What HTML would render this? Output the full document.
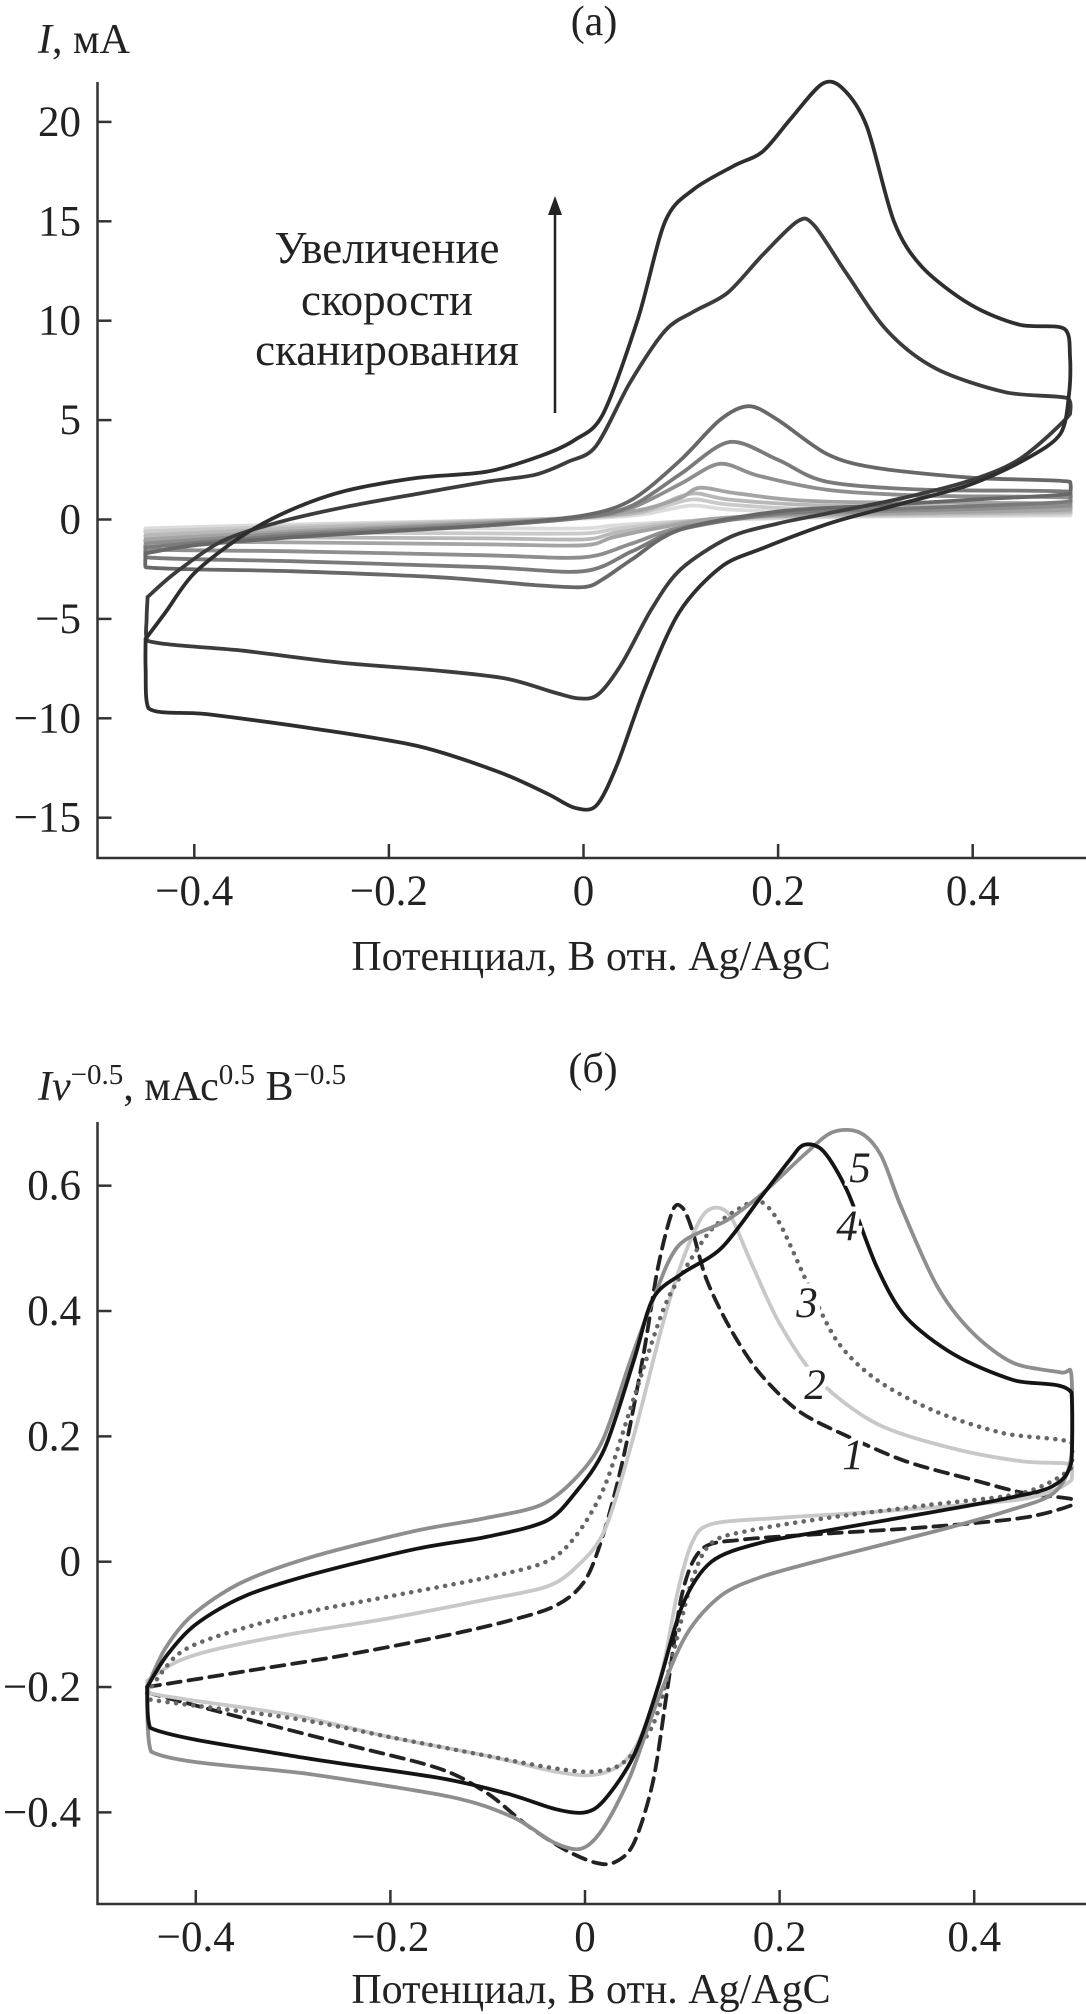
<!DOCTYPE html>
<html><head><meta charset="utf-8"><style>
html,body{margin:0;padding:0;background:#fff;}
svg{display:block;}
text{font-family:"Liberation Serif",serif;fill:#222;}
</style></head><body>
<svg id="fig" width="1086" height="2014" viewBox="0 0 1086 2014" xmlns="http://www.w3.org/2000/svg">
<g id="chartA"></g>
<g id="chartB"></g>
</svg>
<script>
// ---------- data: chart (a) ----------
const ticksXA = [-0.4, -0.2, 0, 0.2, 0.4];
const ticksXLabels = ["\u22120.4", "\u22120.2", "0", "0.2", "0.4"];
const ticksYA = [-15, -10, -5, 0, 5, 10, 15, 20];
const ticksYALabels = ["\u221215", "\u221210", "\u22125", "0", "5", "10", "15", "20"];
const curveA6 = [[-0.45,-6.0],[-0.43,-4.7],[-0.40,-2.7],[-0.35,-0.8],[-0.30,0.5],[-0.244,1.45],[-0.17,2.1],[-0.10,2.4],[-0.044,3.2],[-0.009,4.0],[0.02,5.3],[0.056,10.1],[0.084,15],[0.113,16.6],[0.155,17.8],[0.184,18.5],[0.212,20.1],[0.245,21.9],[0.266,21.7],[0.291,19.8],[0.319,15],[0.348,12.7],[0.398,10.8],[0.448,9.8],[0.494,9.6],[0.5,8.2],[0.499,6.3],[0.49,4.3],[0.455,3.05],[0.398,1.77],[0.327,0.8],[0.255,-0.16],[0.184,-1.45],[0.141,-2.4],[0.098,-4.7],[0.063,-8.5],[0.034,-12.4],[0.013,-14.4],[-0.009,-14.5],[-0.037,-13.8],[-0.087,-12.7],[-0.17,-11.4],[-0.28,-10.5],[-0.386,-9.8],[-0.447,-9.5],[-0.45,-7.5],[-0.45,-6.0]];
const curveA5 = [[-0.448,-3.9],[-0.42,-2.7],[-0.372,-1.1],[-0.315,-0.16],[-0.244,0.64],[-0.17,1.3],[-0.10,1.9],[-0.05,2.25],[-0.016,2.9],[0.013,3.7],[0.048,6.9],[0.084,9.5],[0.113,10.45],[0.148,11.4],[0.184,13.3],[0.22,15],[0.237,14.8],[0.27,12.4],[0.312,9.5],[0.362,7.6],[0.434,6.4],[0.498,6.1],[0.5,5.3],[0.45,3.1],[0.4,2.0],[0.33,1.1],[0.25,0.3],[0.2,-0.2],[0.15,-0.9],[0.1,-2.5],[0.07,-4.5],[0.04,-7.2],[0.015,-8.8],[-0.005,-9.0],[-0.03,-8.7],[-0.08,-8.0],[-0.15,-7.6],[-0.25,-7.2],[-0.35,-6.6],[-0.448,-6.1],[-0.449,-5.0],[-0.448,-3.9]];
const curveA4 = [[-0.45,-1.7],[-0.4,-1.3],[-0.3,-0.9],[-0.2,-0.6],[-0.1,-0.3],[0,0.2],[0.05,1.0],[0.1,3.0],[0.14,5.0],[0.17,5.7],[0.2,5.0],[0.25,3.3],[0.3,2.6],[0.4,2.1],[0.5,1.9],[0.5,1.3],[0.4,1.0],[0.3,0.7],[0.2,0.4],[0.1,-0.5],[0.05,-2.0],[0.02,-3.0],[0,-3.4],[-0.05,-3.3],[-0.15,-2.9],[-0.3,-2.6],[-0.45,-2.4],[-0.45,-1.7]];
const curveA3 = [[-0.45,-1.4],[-0.3,-0.8],[-0.1,-0.3],[0,0.1],[0.05,0.7],[0.1,2.3],[0.15,3.9],[0.2,3.0],[0.25,1.9],[0.35,1.5],[0.5,1.4],[0.5,0.9],[0.3,0.5],[0.2,0.3],[0.1,-0.5],[0.05,-1.6],[0,-2.6],[-0.1,-2.4],[-0.3,-2.1],[-0.45,-1.9],[-0.45,-1.4]];
const curveA2 = [[-0.45,-1.2],[-0.3,-0.7],[-0.1,-0.2],[0,0.1],[0.05,0.6],[0.1,1.8],[0.14,2.8],[0.18,2.2],[0.25,1.5],[0.35,1.2],[0.5,1.1],[0.5,0.7],[0.3,0.4],[0.2,0.25],[0.1,-0.4],[0.05,-1.2],[0,-1.9],[-0.1,-1.8],[-0.3,-1.6],[-0.45,-1.5],[-0.45,-1.2]];
const curveA1 = [[-0.45,-1.0],[-0.3,-0.6],[-0.1,-0.15],[0,0.1],[0.06,0.5],[0.1,1.1],[0.12,1.6],[0.16,1.3],[0.25,0.9],[0.5,0.8],[0.5,0.5],[0.3,0.3],[0.15,0.1],[0.08,-0.4],[0.03,-0.9],[0,-1.3],[-0.1,-1.25],[-0.3,-1.15],[-0.45,-1.1],[-0.45,-1.0]];
const curveA0 = [[-0.45,-0.8],[-0.3,-0.45],[-0.1,-0.1],[0,0.1],[0.06,0.4],[0.11,1.3],[0.15,1.0],[0.25,0.7],[0.5,0.6],[0.5,0.4],[0.3,0.25],[0.15,0.1],[0.08,-0.3],[0.03,-0.7],[0,-1.0],[-0.1,-0.95],[-0.3,-0.9],[-0.45,-0.85],[-0.45,-0.8]];
const curveAm = [[-0.45,-0.6],[-0.3,-0.35],[-0.1,-0.05],[0,0.1],[0.06,0.35],[0.11,1.0],[0.15,0.75],[0.25,0.5],[0.5,0.45],[0.5,0.3],[0.3,0.2],[0.15,0.05],[0.08,-0.2],[0.03,-0.5],[0,-0.7],[-0.1,-0.7],[-0.3,-0.65],[-0.45,-0.65],[-0.45,-0.6]];
const curveAl = [[-0.45,-0.45],[-0.3,-0.25],[-0.1,-0.05],[0,0.05],[0.06,0.25],[0.11,0.7],[0.15,0.5],[0.25,0.35],[0.5,0.3],[0.5,0.2],[0.3,0.15],[0.15,0.0],[0.08,-0.15],[0.03,-0.3],[0,-0.45],[-0.1,-0.45],[-0.3,-0.45],[-0.45,-0.5],[-0.45,-0.45]];

// ---------- data: chart (b) ----------
const ticksYB = [-0.4, -0.2, 0, 0.2, 0.4, 0.6];
const ticksYBLabels = ["\u22120.4", "\u22120.2", "0", "0.2", "0.4", "0.6"];
const curveB5 = [[-0.45,-0.2],[-0.432,-0.14],[-0.404,-0.086],[-0.354,-0.034],[-0.282,0.007],[-0.175,0.049],[-0.104,0.069],[-0.046,0.09],[-0.011,0.131],[0.018,0.193],[0.046,0.318],[0.068,0.41],[0.096,0.504],[0.146,0.545],[0.182,0.587],[0.225,0.649],[0.254,0.685],[0.282,0.685],[0.304,0.649],[0.325,0.566],[0.361,0.442],[0.396,0.369],[0.439,0.318],[0.489,0.302],[0.5,0.297],[0.5,0.17],[0.482,0.11],[0.432,0.08],[0.361,0.049],[0.254,0.007],[0.182,-0.024],[0.139,-0.055],[0.104,-0.117],[0.075,-0.22],[0.046,-0.344],[0.018,-0.427],[-0.004,-0.458],[-0.032,-0.448],[-0.075,-0.407],[-0.139,-0.375],[-0.282,-0.339],[-0.446,-0.303],[-0.45,-0.2]];
const curveB4 = [[-0.45,-0.2],[-0.43,-0.15],[-0.4,-0.1],[-0.35,-0.055],[-0.28,-0.02],[-0.175,0.02],[-0.1,0.04],[-0.04,0.065],[-0.01,0.11],[0.02,0.18],[0.05,0.32],[0.07,0.42],[0.1,0.46],[0.14,0.5],[0.18,0.58],[0.21,0.64],[0.225,0.665],[0.245,0.655],[0.27,0.59],[0.3,0.47],[0.33,0.39],[0.38,0.33],[0.44,0.29],[0.5,0.27],[0.5,0.16],[0.48,0.12],[0.43,0.1],[0.36,0.08],[0.25,0.05],[0.18,0.03],[0.13,0.0],[0.1,-0.07],[0.075,-0.2],[0.05,-0.31],[0.02,-0.38],[0,-0.4],[-0.03,-0.395],[-0.08,-0.37],[-0.15,-0.345],[-0.3,-0.31],[-0.447,-0.265],[-0.45,-0.2]];
const curveB3 = [[-0.45,-0.21],[-0.42,-0.15],[-0.38,-0.12],[-0.3,-0.085],[-0.2,-0.055],[-0.1,-0.025],[-0.04,0.0],[-0.01,0.04],[0.02,0.12],[0.05,0.26],[0.08,0.4],[0.1,0.46],[0.13,0.53],[0.16,0.565],[0.18,0.575],[0.2,0.54],[0.23,0.44],[0.26,0.35],[0.3,0.29],[0.36,0.24],[0.43,0.205],[0.5,0.19],[0.5,0.15],[0.45,0.11],[0.35,0.09],[0.25,0.07],[0.17,0.05],[0.13,0.03],[0.11,-0.03],[0.09,-0.15],[0.07,-0.26],[0.04,-0.32],[0.01,-0.335],[-0.03,-0.33],[-0.1,-0.31],[-0.2,-0.28],[-0.3,-0.25],[-0.447,-0.22],[-0.45,-0.21]];
const curveB2 = [[-0.45,-0.19],[-0.42,-0.16],[-0.38,-0.14],[-0.3,-0.115],[-0.2,-0.09],[-0.1,-0.06],[-0.04,-0.04],[-0.01,-0.01],[0.02,0.05],[0.05,0.2],[0.08,0.38],[0.1,0.48],[0.12,0.55],[0.135,0.565],[0.15,0.55],[0.17,0.48],[0.2,0.38],[0.24,0.29],[0.3,0.22],[0.38,0.18],[0.45,0.16],[0.5,0.155],[0.5,0.13],[0.45,0.1],[0.3,0.08],[0.2,0.07],[0.13,0.06],[0.11,0.03],[0.095,-0.05],[0.08,-0.17],[0.06,-0.27],[0.04,-0.32],[0.01,-0.34],[-0.03,-0.335],[-0.1,-0.31],[-0.2,-0.28],[-0.3,-0.245],[-0.447,-0.21],[-0.45,-0.19]];
const curveB1 = [[-0.45,-0.2],[-0.35,-0.175],[-0.25,-0.15],[-0.15,-0.12],[-0.08,-0.095],[-0.03,-0.07],[0.0,-0.03],[0.02,0.05],[0.04,0.17],[0.06,0.33],[0.075,0.47],[0.09,0.56],[0.1,0.565],[0.11,0.53],[0.125,0.45],[0.15,0.37],[0.18,0.3],[0.22,0.24],[0.27,0.2],[0.33,0.16],[0.4,0.13],[0.45,0.11],[0.5,0.1],[0.5,0.09],[0.45,0.07],[0.35,0.055],[0.25,0.045],[0.16,0.035],[0.12,0.02],[0.1,-0.05],[0.085,-0.2],[0.07,-0.35],[0.05,-0.45],[0.03,-0.48],[0.01,-0.48],[-0.02,-0.46],[-0.06,-0.42],[-0.1,-0.37],[-0.15,-0.33],[-0.25,-0.29],[-0.35,-0.25],[-0.447,-0.21]];

// ---------- axis functions ----------
const NS = "http://www.w3.org/2000/svg";
function xA(v){ return 583.5 + v*973; }
function yA(i){ return 519.5 - i*19.88; }
function xB(v){ return 585 + v*973; }
function yB(i){ return 1561.7 - i*626.7; }

function mk(tag, attrs, parent){
  const e = document.createElementNS(NS, tag);
  for (const k in attrs) e.setAttribute(k, attrs[k]);
  parent.appendChild(e);
  return e;
}
function smoothPath(pts, fx, fy){
  const P = pts.map(p => [fx(p[0]), fy(p[1])]);
  const lo = fx(-0.451), hi = fx(0.501);
  const cl = v => Math.max(lo, Math.min(hi, v));
  let d = "M" + P[0][0].toFixed(1) + "," + P[0][1].toFixed(1);
  for (let k = 0; k < P.length - 1; k++){
    const p0 = P[k-1] || P[k], p1 = P[k], p2 = P[k+1], p3 = P[k+2] || P[k+1];
    const t = 0.15;
    const c1x = cl(p1[0] + (p2[0]-p0[0])*t), c1y = p1[1] + (p2[1]-p0[1])*t;
    const c2x = cl(p2[0] - (p3[0]-p1[0])*t), c2y = p2[1] - (p3[1]-p1[1])*t;
    d += " C" + c1x.toFixed(1)+","+c1y.toFixed(1)+" "+c2x.toFixed(1)+","+c2y.toFixed(1)+" "+p2[0].toFixed(1)+","+p2[1].toFixed(1);
  }
  return d;
}

function axes(g, fx, fy, yTicks, yLabels, axisTop, axisBottom, name){
  const ax = mk("path", {d:"M97.5,"+axisTop+" V"+axisBottom+" H1086", fill:"none", stroke:"#333", "stroke-width":"2.5"}, g);
  
  
  ticksXA.forEach((v, k) => {
    const t = mk("line", {x1:fx(v), x2:fx(v), y1:axisBottom, y2:axisBottom-14, stroke:"#333", "stroke-width":"2.5"}, g);
    
    
    const l = mk("text", {x:fx(v), y:axisBottom+47, "text-anchor":"middle", "font-size":"43"}, g);
    l.textContent = ticksXLabels[k];
    
    
  });
  yTicks.forEach((v, k) => {
    const t = mk("line", {x1:97.5, x2:111.5, y1:fy(v), y2:fy(v), stroke:"#333", "stroke-width":"2.5"}, g);
    
    
    const l = mk("text", {x:81, y:fy(v)+14, "text-anchor":"end", "font-size":"43"}, g);
    l.textContent = yLabels[k];
    
    
  });
}

// ---------- chart (a) ----------
const gA = document.getElementById("chartA");
axes(gA, xA, yA, ticksYA, ticksYALabels, 82, 858, "chart-a");
const seriesA = [
  [curveAl, "#dcdcdc", "curve-a-8"], [curveAm, "#cacaca", "curve-a-7"], [curveA0, "#b8b8b8", "curve-a-6"],
  [curveA1, "#a4a4a4", "curve-a-5"], [curveA2, "#8e8e8e", "curve-a-4"], [curveA3, "#7a7a7a", "curve-a-3"],
  [curveA4, "#686868", "curve-a-2"], [curveA5, "#3c3c3c", "curve-a-1"], [curveA6, "#2e2e2e", "curve-a-0"]
];
seriesA.forEach(s => {
  const p = mk("path", {d:smoothPath(s[0], xA, yA), fill:"none", stroke:s[1], "stroke-width":"3.8", "stroke-linejoin":"round", "stroke-linecap":"round"}, gA);
  
  
});
</script>
<script>
(function(){
  const gA = document.getElementById("chartA");
  let t = mk("text", {x:594, y:35, "text-anchor":"middle", "font-size":"42"}, gA); t.textContent = "(a)";
  
  
  t = mk("text", {x:38, y:53, "font-size":"42"}, gA);
  t.innerHTML = '<tspan font-style="italic">I</tspan>, мА';
  
  
  t = mk("text", {x:591, y:970, "text-anchor":"middle", "font-size":"42"}, gA); t.textContent = "Потенциал, В отн. Ag/AgC";
  
  
  const ann = ["Увеличение", "скорости", "сканирования"], annY = [263, 315, 365];
  ann.forEach((s, k) => {
    const a = mk("text", {x:387, y:annY[k], "text-anchor":"middle", "font-size":"45"}, gA); a.textContent = s;
    
    
  });
  const ar = mk("line", {x1:555, x2:555, y1:413, y2:210, stroke:"#222", "stroke-width":"2.5"}, gA);
  
  
  const ah = mk("path", {d:"M555,196 L548,215 L562,215 Z", fill:"#222"}, gA);
  
  

  // ---------- chart (b) ----------
  const gB = document.getElementById("chartB");
  axes(gB, xB, yB, ticksYB, ticksYBLabels, 1122, 1904, "chart-b");
  const seriesB = [
    [curveB1, "#222", "curve-1", {"stroke-dasharray":"13 8"}],
    [curveB2, "#c8c8c8", "curve-2", {}],
    [curveB3, "#666", "curve-3", {"stroke-dasharray":"0.1 8.5"}],
    [curveB5, "#8e8e8e", "curve-5", {}],
    [curveB4, "#141414", "curve-4", {}]
  ];
  seriesB.forEach(s => {
    const attrs = {d:smoothPath(s[0], xB, yB), fill:"none", stroke:s[1], "stroke-width":"3.8", "stroke-linejoin":"round", "stroke-linecap":"round"};
    for (const k in s[3]) attrs[k] = s[3][k];
    if (s[2] === "curve-3") attrs["stroke-width"] = "4.5";
    const p = mk("path", attrs, gB);
    
    
  });
  const labTxt = ["5", "4", "3", "2", "1"], labX = [860, 847, 807, 815, 853], labY = [1182, 1240, 1317, 1399, 1469];
  labTxt.forEach((s, k) => {
    const l = mk("text", {x:labX[k], y:labY[k], "text-anchor":"middle", "font-size":"43", "font-style":"italic", stroke:"#fff", "stroke-width":"10", "paint-order":"stroke"}, gB);
    l.textContent = s;
    
    
  });
  t = mk("text", {x:593, y:1082, "text-anchor":"middle", "font-size":"42"}, gB); t.textContent = "(б)";
  
  
  t = mk("text", {x:38, y:1100, "font-size":"42"}, gB);
  t.innerHTML = '<tspan font-style="italic">Iv</tspan><tspan dy="-16" font-size="29">−0.5</tspan><tspan dy="16">, мАс</tspan><tspan dy="-16" font-size="29">0.5</tspan><tspan dy="16"> В</tspan><tspan dy="-16" font-size="29">−0.5</tspan>';
  
  
  t = mk("text", {x:591, y:2003, "text-anchor":"middle", "font-size":"42"}, gB); t.textContent = "Потенциал, В отн. Ag/AgC";
  
  
})();
</script>
</body></html>
